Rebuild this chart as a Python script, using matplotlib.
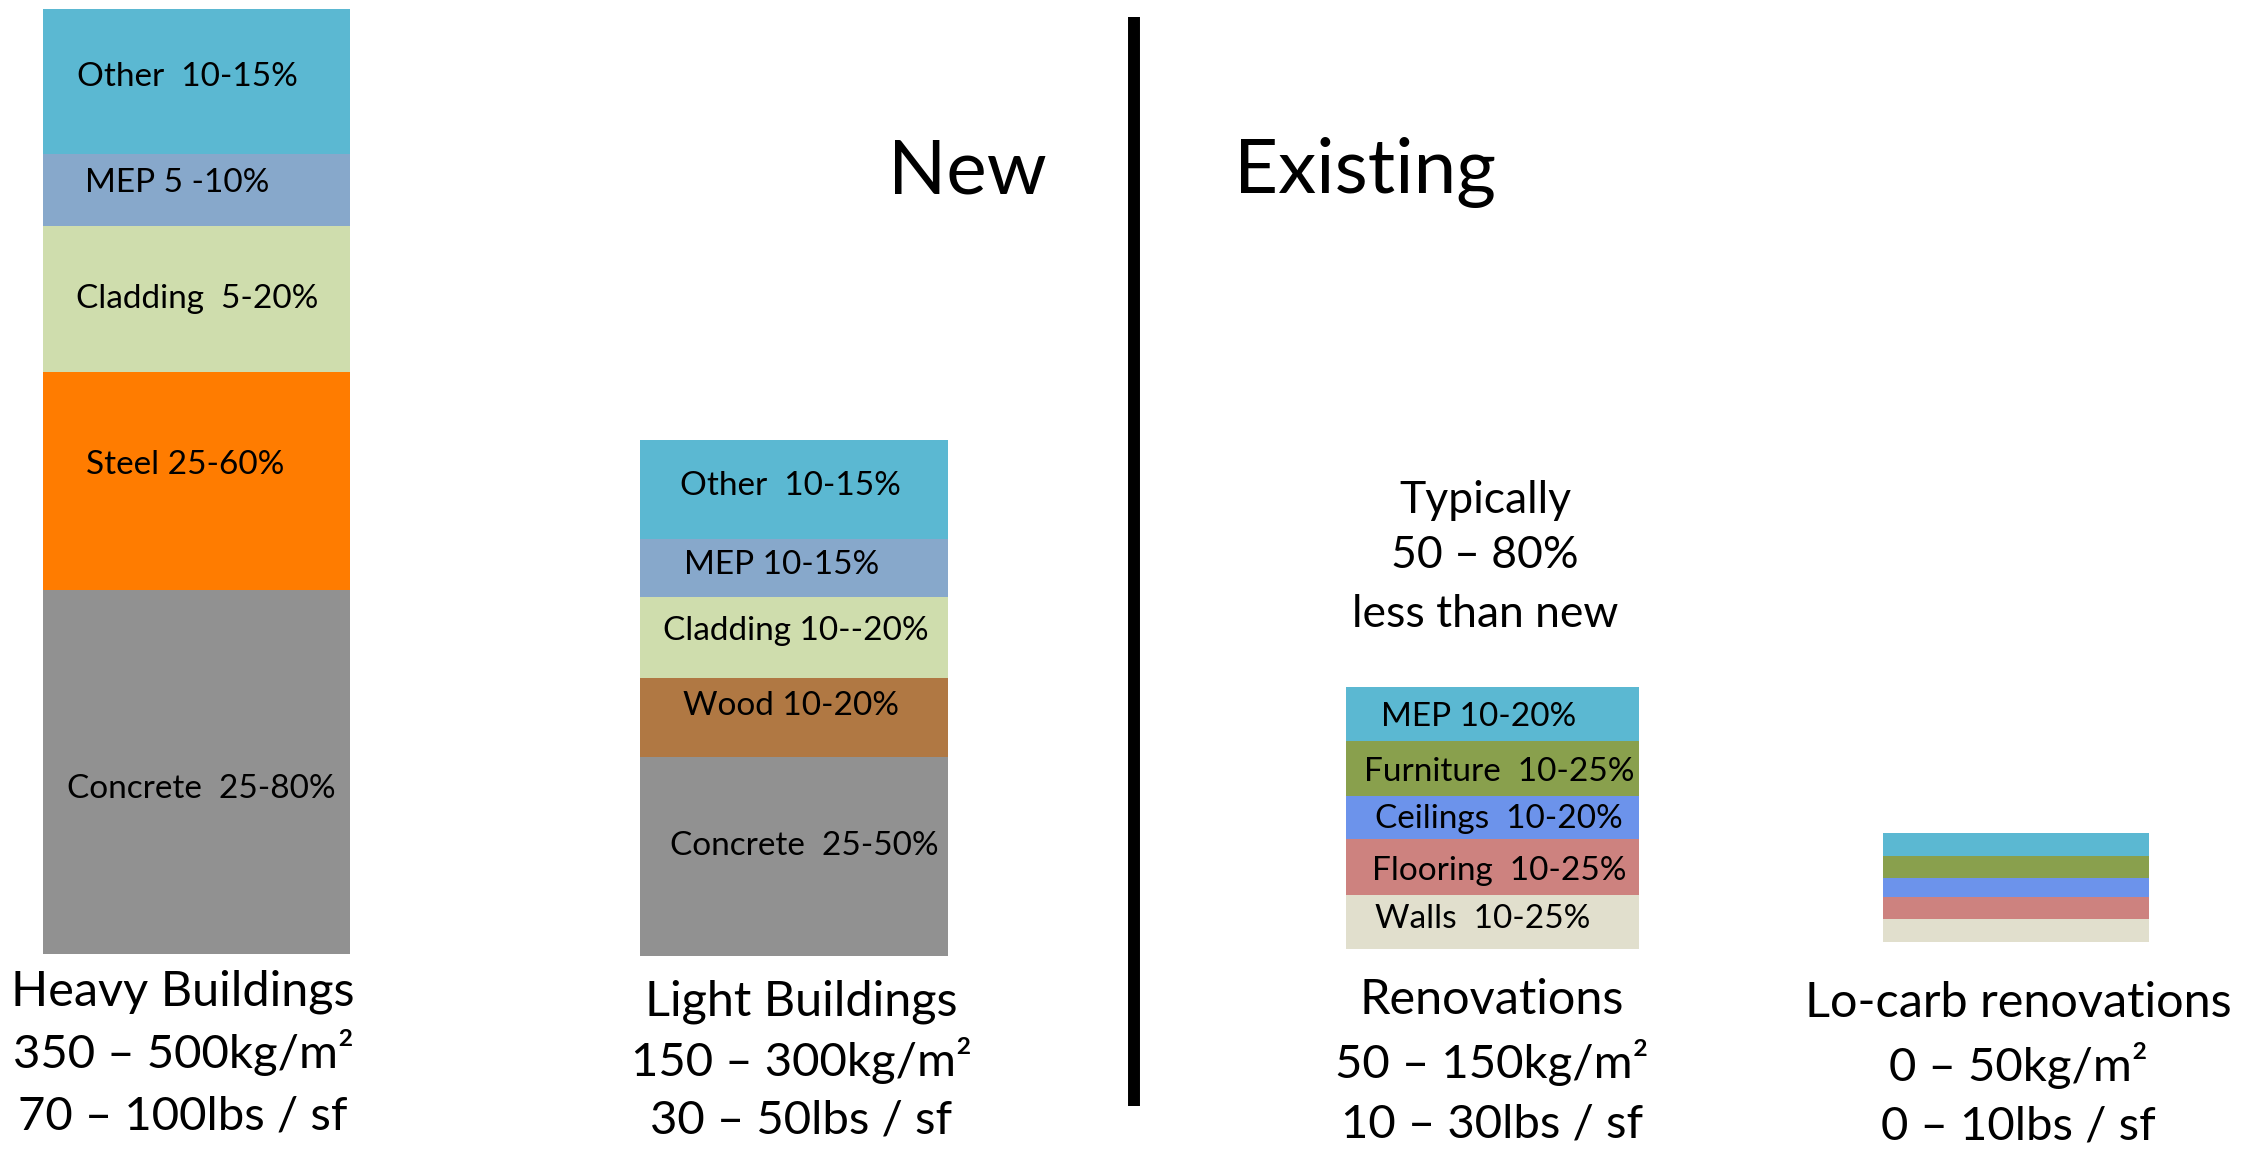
import matplotlib
matplotlib.use("Agg")
import matplotlib.pyplot as plt

# ---------------------------------------------------------------------------
# Data: stacked segment heights (bottom segment first) and their captions
# ---------------------------------------------------------------------------
heavy_labels = ["Concrete  25-80%", "Steel 25-60%", "Cladding  5-20%", "MEP 5 -10%", "Other  10-15%"]
heavy_heights = [364, 218, 146, 72, 145]

light_labels = ["Concrete  25-50%", "Wood 10-20%", "Cladding 10--20%", "MEP 10-15%", "Other  10-15%"]
light_heights = [199, 79, 81, 58, 99]

reno_labels = ["Walls  10-25%", "Flooring  10-25%", "Ceilings  10-20%", "Furniture  10-25%", "MEP 10-20%"]
reno_heights = [54, 56, 43, 55, 54]

locarb_heights = [23, 22, 19, 22, 23]

column_titles = ["Heavy Buildings", "Light Buildings", "Renovations", "Lo-carb renovations"]
metric_ranges = ["350 – 500kg/m²", "150 – 300kg/m²", "50 – 150kg/m²", "0 – 50kg/m²"]
imperial_ranges = ["70 – 100lbs / sf", "30 – 50lbs / sf", "10 – 30lbs / sf", "0 – 10lbs / sf"]

# ---------------------------------------------------------------------------
# Styles
# ---------------------------------------------------------------------------
C_OTHER = "#5BB8D2"
C_MEP = "#87A8CB"
C_CLAD = "#CFDDAD"
C_STEEL = "#FF7C00"
C_CONC = "#919191"
C_WOOD = "#B07843"
C_FURN = "#89A04D"
C_CEIL = "#6C93EB"
C_FLOOR = "#CD827F"
C_WALL = "#E1DFCD"

heavy_colors = [C_CONC, C_STEEL, C_CLAD, C_MEP, C_OTHER]
light_colors = [C_CONC, C_WOOD, C_CLAD, C_MEP, C_OTHER]
reno_colors = [C_WALL, C_FLOOR, C_CEIL, C_FURN, C_OTHER]

FONT = ["Lato", "DejaVu Sans"]
plt.rcParams["font.family"] = FONT

W, H = 2252, 1151
fig = plt.figure(figsize=(W / 100, H / 100), dpi=100)
ax = fig.add_axes([0, 0, 1, 1])
ax.set_xlim(0, W)
ax.set_ylim(0, H)
ax.axis("off")


def Y(py):
    """Convert a distance from the top edge into the canvas y coordinate."""
    return H - py


# column layout: (centre x, bar width, baseline measured from top)
columns = [
    (196.5, 307, 954),
    (794.0, 308, 956),
    (1492.5, 293, 949),
    (2016.0, 266, 942),
]


def stack(col, heights, colors):
    cx, width, base = columns[col]
    bottom = Y(base)
    for h, c in zip(heights, colors):
        ax.bar(cx, h, width=width, bottom=bottom, color=c, linewidth=0)
        bottom += h


stack(0, heavy_heights, heavy_colors)
stack(1, light_heights, light_colors)
stack(2, reno_heights, reno_colors)
stack(3, locarb_heights, reno_colors)

# segment caption anchors: (centre x, baseline from top)
heavy_text_pos = [(201, 798), (185, 474), (197, 308), (177, 192), (187, 86)]
light_text_pos = [(804, 855), (791, 715), (796, 640), (782, 574), (790, 495)]
reno_text_pos = [(1483, 928), (1499, 880), (1499, 828), (1499, 781), (1479, 726)]

SEG_FS = 24
for labels, pos in ((heavy_labels, heavy_text_pos),
                    (light_labels, light_text_pos),
                    (reno_labels, reno_text_pos)):
    for lab, (x, py) in zip(labels, pos):
        ax.text(x, Y(py), lab, ha="center", va="baseline",
                fontsize=SEG_FS, color="black")

# captions under each column: (centre x, baselines of the three lines)
caption_pos = [
    (183, (1005, 1068, 1130)),
    (801, (1015, 1076, 1134)),
    (1492, (1014, 1078, 1138)),
    (2018, (1017, 1081, 1140)),
]
TITLE_FS = 35
RANGE_FS = 34
for title, met, imp, (x, (b1, b2, b3)) in zip(column_titles, metric_ranges,
                                                imperial_ranges, caption_pos):
    ax.text(x, Y(b1), title, ha="center", va="baseline", fontsize=TITLE_FS)
    ax.text(x, Y(b2), met, ha="center", va="baseline", fontsize=RANGE_FS)
    ax.text(x, Y(b3), imp, ha="center", va="baseline", fontsize=RANGE_FS)

# note above the renovation column
for line, py in zip(["Typically", "50 – 80%", "less than new"], [513, 568, 627]):
    ax.text(1485, Y(py), line, ha="center", va="baseline", fontsize=32)

# section headings and divider
ax.text(967, Y(193), "New", ha="center", va="baseline", fontsize=55)
ax.text(1234, Y(193), "Existing", ha="left", va="baseline", fontsize=55)
ax.plot([1134, 1134], [Y(17), Y(1106)], color="black", linewidth=8.6,
        solid_capstyle="butt")

fig.savefig("out.png", dpi=100, facecolor="white")
